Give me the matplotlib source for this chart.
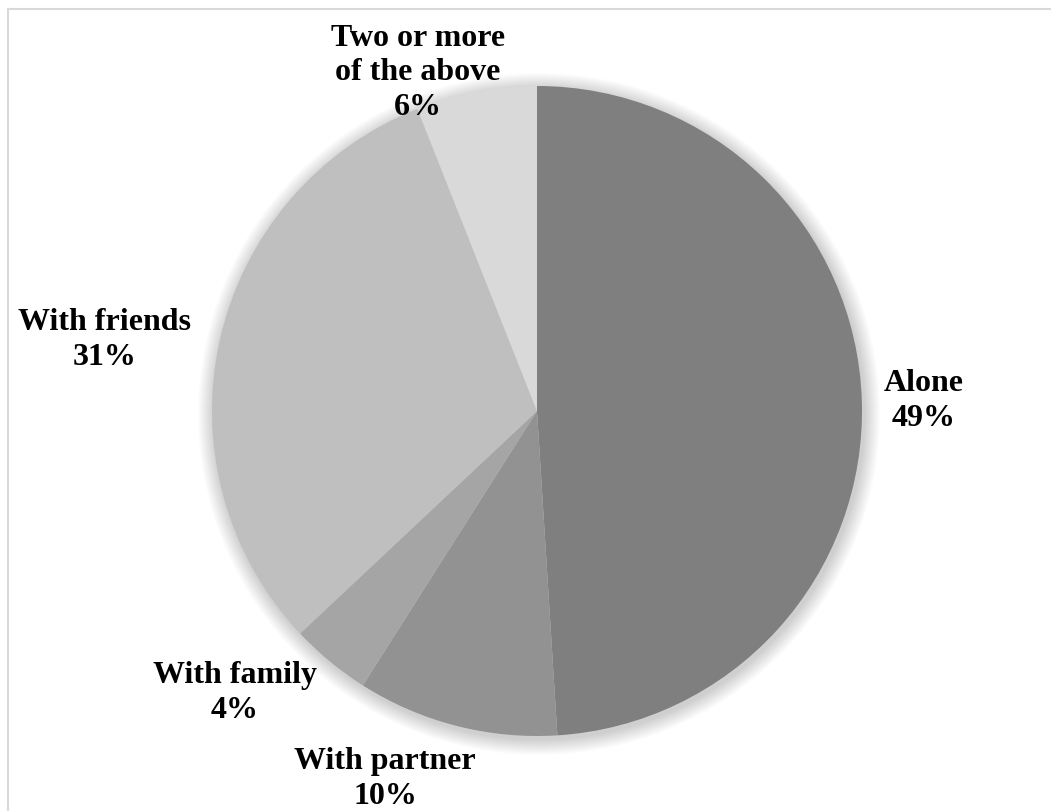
import matplotlib
matplotlib.use("Agg")
import matplotlib.pyplot as plt
from matplotlib.patches import Circle

plt.rcParams['font.family'] = ['Liberation Serif', 'DejaVu Serif']

# data
categories = ['Alone', 'With partner', 'With family', 'With friends', 'Two or more\nof the above']
shares = [49, 10, 4, 31, 6]
colours = ['#7f7f7f', '#929292', '#a5a5a5', '#bfbfbf', '#d9d9d9']

# label placement (pixels, y from top), picked by hand like the original
label_xy = [(924, 401), (385, 779), (235, 693), (105, 340), (418, 73)]

W, H = 1051, 811
cx, cy, r = 537, H - 411, 325

fig = plt.figure(figsize=(W / 100, H / 100), dpi=100)
ax = fig.add_axes([0, 0, 1, 1])

# soft shadow under the pie
for i in range(16, 0, -1):
    ax.add_patch(Circle((cx + 2, cy - 3), r + i, color='black', alpha=0.011, lw=0, zorder=1))

ax.pie(shares, colors=colours, startangle=90, counterclock=False,
       center=(cx, cy), radius=r, frame=True,
       wedgeprops=dict(linewidth=0, zorder=2))
ax.set_xlim(0, W)
ax.set_ylim(0, H)
ax.set_aspect('equal')
ax.axis('off')

for name, val, (lx, ly) in zip(categories, shares, label_xy):
    ax.text(lx, H - ly, f'{name}\n{val}%', ha='center', va='center',
            fontsize=23, fontweight='bold', linespacing=1.25, zorder=5)

# chart-area border (runs off the right and bottom edges)
ax.plot([8, W + 5], [H - 9, H - 9], color='#d9d9d9', lw=1.5, clip_on=False)
ax.plot([8, 8], [H - 9, -5], color='#d9d9d9', lw=1.5, clip_on=False)

fig.savefig('out.png', dpi=100, facecolor='white')
